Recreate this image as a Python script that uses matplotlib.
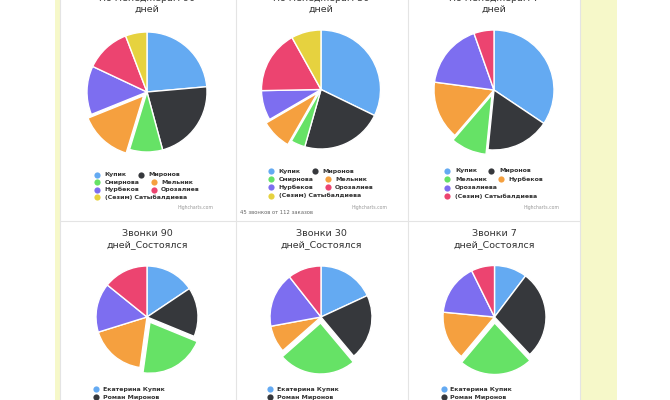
"""
Highcharts dashboard screenshot: six manager / call pies in a 2x3 card grid.
Output: out.png (670x400)
"""

import matplotlib
matplotlib.use("Agg")
import matplotlib.pyplot as plt
from matplotlib.patches import Rectangle

plt.rcParams["font.family"] = ["DejaVu Sans"]

W, H = 670, 400

# ============================== DATA ==============================
# shares in % (Highcharts starts at 12 o'clock, clockwise)
managers_90 = ["Купик", "Миронов", "Смирнова", "Мельник", "Нурбеков",
               "Орозалиев", "(Сезим) Сатыбалдиева"]
share_90 = [23.6, 22.2, 8.9, 14.2, 13.1, 12.2, 5.8]

managers_30 = ["Купик", "Миронов", "Смирнова", "Мельник", "Нурбеков",
               "Орозалиев", "(Сезим) Сатыбалдиева"]
share_30 = [32.2, 22.2, 3.9, 8.3, 8.1, 17.2, 8.1]

managers_7 = ["Купик", "Миронов", "Мельник", "Нурбеков", "Орозалиева",
              "(Сезим) Сатыбалдиева"]
share_7 = [34.4, 17.2, 9.7, 15.8, 17.5, 5.4]

callers = ["Екатерина Купик", "Роман Миронов"]   # rest of the legend is cut off
calls_90 = [15.6, 15.6, 21.0, 18.0, 15.6, 14.2]
calls_30 = [18.1, 20.8, 24.6, 8.6, 17.3, 10.6]
calls_7 = [10.3, 27.7, 23.1, 15.4, 16.2, 7.3]

titles_top = ["По менеджерам 90\nдней", "По менеджерам 30\nдней", "По менеджерам 7\nдней"]
titles_bottom = ["Звонки 90\nдней_Состоялся", "Звонки 30\nдней_Состоялся", "Звонки 7\nдней_Состоялся"]
footnote = "45 звонков от 112 заказов"
# ==================================================================

PALETTE = ["#64aaf2", "#36383c", "#66e266", "#f5a03f", "#7d6ef0", "#ec4470", "#e6d23f"]
TEXT = "#333333"
LEG_FS = 4.5

fig = plt.figure(figsize=(W / 100, H / 100), dpi=100)
ax = fig.add_axes([0, 0, 1, 1])


def draw_pie(values, cx, cy, r, sliced, offset):
    # explode is an absolute shift in data units (= pixels here)
    explode = [0.0] * len(values)
    explode[sliced] = offset
    # y axis is flipped (pixel coords), so counterclock=True / -90 means
    # "start at the top, go clockwise" on screen
    ax.pie(values, colors=PALETTE[:len(values)], center=(cx, cy), radius=r,
           startangle=-90, counterclock=True, explode=explode,
           wedgeprops=dict(edgecolor="white", linewidth=1.0), frame=True)


def flow_legend(names, cx, y_top, row_h, max_w=118):
    # Highcharts-style horizontal legend: items flow left to right, wrap, centred
    rend = fig.canvas.get_renderer()
    widths = []
    for n in names:
        t = ax.text(0, 0, n, fontsize=LEG_FS, fontweight="bold")
        widths.append(t.get_window_extent(rend).width)
        t.remove()
    sym, gap = 7.7, 14.0
    rows, cur, cur_w = [], [], 0.0
    for i, w in enumerate(widths):
        add = (3 + sym + w) if not cur else (gap + sym + w)
        if cur and cur_w + add > max_w:
            rows.append((cur, cur_w))
            cur, cur_w = [i], 3 + sym + w
        else:
            cur.append(i)
            cur_w += add
    rows.append((cur, cur_w))
    total = max(w for _, w in rows)
    x0 = cx - total / 2 + 3
    for k, (items, _) in enumerate(rows):
        x, y = x0, y_top + k * row_h
        for i in items:
            ax.scatter([x], [y], s=20, color=PALETTE[i], zorder=3, linewidths=0)
            ax.text(x + sym, y, names[i], fontsize=LEG_FS, fontweight="bold",
                    color=TEXT, va="center", ha="left")
            x += sym + widths[i] + gap


# page background: yellow strips around the card grid
ax.add_patch(Rectangle((55, 0), 5, H, color="#f6f8c9", lw=0))
ax.add_patch(Rectangle((581, 0), 36, H, color="#f6f8c9", lw=0))
for x in (60, 236, 408, 580):
    ax.plot([x, x], [0, H], color="#e4e4e4", lw=0.8)
ax.plot([60, 580], [221, 221], color="#e4e4e4", lw=0.8)

# ---- top row: by manager ----
top = [(share_90, managers_90, 147, 92, 60, 3, 174.5, 7.6),
       (share_30, managers_30, 321, 89.5, 59.5, 3, 171, 8.2),
       (share_7, managers_7, 494, 90, 60, 2, 170.7, 8.4)]
for k, (vals, names, cx, cy, r, sl, ly, lh) in enumerate(top):
    draw_pie(vals, cx, cy, r, sl, 5.0)
    ax.text(cx, 4, titles_top[k], fontsize=6.8, color=TEXT, ha="center",
            va="center", linespacing=1.2)
    flow_legend(names, cx, ly, lh)
    ax.text(cx + 66, 207, "Highcharts.com", fontsize=3.3, color="#999999",
            ha="right", va="center")

ax.text(240, 212, footnote, fontsize=3.8, color="#666666", ha="left", va="center")

# ---- bottom row: calls ----
bottom = [(calls_90, 147, 317, 51), (calls_30, 321, 317, 51), (calls_7, 494.5, 317, 51.5)]
for k, (vals, cx, cy, r) in enumerate(bottom):
    draw_pie(vals, cx, cy, r, 2, 6.0)
    ax.text(cx, 239, titles_bottom[k], fontsize=6.8, color=TEXT, ha="center",
            va="center", linespacing=1.2)
    for j, name in enumerate(callers):
        y = 389.3 + j * 8
        ax.scatter([cx - 51], [y], s=20, color=PALETTE[j], zorder=3, linewidths=0)
        ax.text(cx - 44, y, name, fontsize=LEG_FS, fontweight="bold", color=TEXT,
                va="center", ha="left")

ax.set_xlim(0, W)
ax.set_ylim(H, 0)
ax.set_aspect("auto")
ax.axis("off")

fig.savefig("out.png", dpi=100, facecolor="white")
